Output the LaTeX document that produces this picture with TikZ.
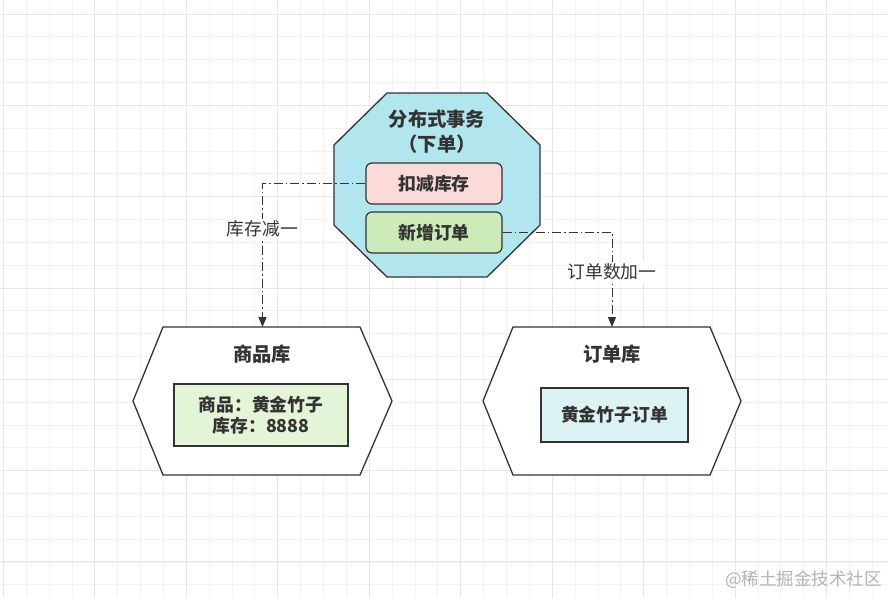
\documentclass[tikz,border=0pt]{standalone}
\usepackage{fontspec}
\setmainfont{Noto Sans CJK SC}
\usetikzlibrary{arrows.meta}
\definecolor{txt}{HTML}{333333}
\definecolor{gridminor}{HTML}{F2F2F2}
\definecolor{gridmajor}{HTML}{E6E6E6}
\definecolor{octfill}{HTML}{B1E6EE}
\definecolor{pinkfill}{HTML}{FADBD8}
\definecolor{greenfill}{HTML}{CDEBB8}
\definecolor{lgreenfill}{HTML}{E4F4D6}
\definecolor{lcyanfill}{HTML}{DCF3F5}
\definecolor{wmark}{HTML}{B4B4B4}
\tikzset{
  shapeline/.style={draw=txt, line width=1.3pt, line join=miter},
  innerbox/.style={draw=txt, line width=1.2pt, inner sep=0pt, text=txt, font=\fontsize{17.8}{21.5}\selectfont\bfseries, align=center},
  titletext/.style={text=txt, font=\fontsize{19.3}{25}\selectfont\bfseries, align=center, inner sep=0pt},
  frame/.style={inner sep=0pt, outer sep=0pt},
  conn/.style={draw=txt, line width=1pt, dash pattern=on 9pt off 3pt on 1.5pt off 3pt, -{Triangle[width=8pt,length=10pt]}},
  lbl/.style={fill=white, text=txt, font=\fontsize{17.8}{21}\selectfont, inner sep=1.5pt}
}
\begin{document}
\begin{tikzpicture}[x=1pt,y=-1pt]
\useasboundingbox (0,0) rectangle (888,598);
\fill[white] (0,0) rectangle (888,598);
% grid
\foreach \i in {0,...,39}{
  \pgfmathsetmacro{\gx}{3.3+22.87*\i}
  \draw[gridminor, line width=0.8pt] (\gx,0) -- (\gx,598);
}
\foreach \i in {0,...,26}{
  \pgfmathsetmacro{\gy}{14+22.83*\i}
  \draw[gridminor, line width=0.8pt] (0,\gy) -- (888,\gy);
}
\foreach \i in {0,...,9}{
  \pgfmathsetmacro{\gx}{3.3+91.48*\i}
  \draw[gridmajor, line width=0.9pt] (\gx,0) -- (\gx,598);
}
\foreach \i in {-1,...,6}{
  \pgfmathsetmacro{\gy}{14+91.32*\i}
  \draw[gridmajor, line width=0.9pt] (0,\gy) -- (888,\gy);
}

% octagon
\node[frame, minimum width=206pt, minimum height=184pt] (oct) at (437,185) {};
\filldraw[shapeline, fill=octfill]
  ([xshift=53pt]oct.north west) -- ([xshift=-53pt]oct.north east)
  -- ([yshift=-52pt]oct.north east) -- ([yshift=52pt]oct.south east)
  -- ([xshift=-53pt]oct.south east) -- ([xshift=53pt]oct.south west)
  -- ([yshift=52pt]oct.south west) -- ([yshift=-52pt]oct.north west) -- cycle;
\node[titletext] (octtitle) at (437,132) {分布式事务\\（下单）};
\node[innerbox, fill=pinkfill, rounded corners=6pt, minimum width=136pt, minimum height=41pt] (kc) at (434,183.5) {扣减库存};
\node[innerbox, fill=greenfill, rounded corners=6pt, minimum width=136pt, minimum height=41pt] (xz) at (434,232.5) {新增订单};

% left hexagon
\node[frame, minimum width=259pt, minimum height=148pt] (lhex) at (262.5,401) {};
\draw[shapeline, fill=white]
  ([xshift=30pt]lhex.north west) -- ([xshift=-32pt]lhex.north east) -- (lhex.east)
  -- ([xshift=-32pt]lhex.south east) -- ([xshift=30pt]lhex.south west) -- (lhex.west) -- cycle;
\node[titletext] (ltitle) at (262,354) {商品库};
\node[innerbox, fill=lgreenfill, minimum width=174pt, minimum height=62pt] (lin) at (261,415) {商品：黄金竹子\\库存：8888};

% right hexagon
\node[frame, minimum width=258pt, minimum height=148pt] (rhex) at (612,401) {};
\draw[shapeline, fill=white]
  ([xshift=30pt]rhex.north west) -- ([xshift=-31pt]rhex.north east) -- (rhex.east)
  -- ([xshift=-31pt]rhex.south east) -- ([xshift=30pt]rhex.south west) -- (rhex.west) -- cycle;
\node[titletext] (rtitle) at (612,354) {订单库};
\node[innerbox, fill=lcyanfill, minimum width=147pt, minimum height=54pt] (rin) at (614.5,415) {黄金竹子订单};

% connectors
\draw[conn] (kc.west) -| node[lbl, pos=0.657] (l1) {库存减一} (lhex.north);
\draw[conn] (xz.east) -| node[lbl, pos=0.71] (l2) {订单数加一} (rhex.north);

% watermark
\node[anchor=east, text=wmark, font=\fontsize{17.5}{20}\selectfont, inner sep=0pt] (wm) at (882,580) {@稀土掘金技术社区};
\end{tikzpicture}
\end{document}
